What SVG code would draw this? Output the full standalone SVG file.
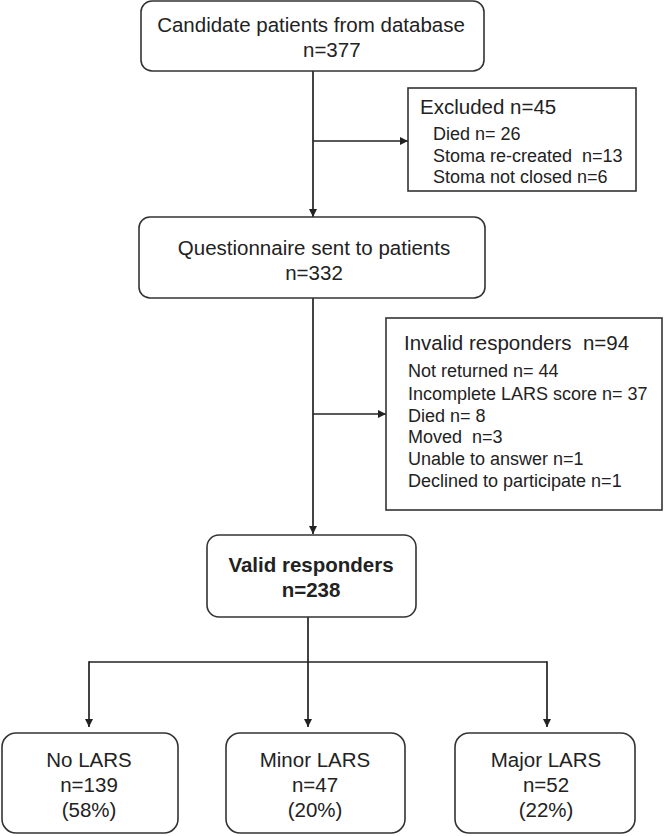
<svg xmlns="http://www.w3.org/2000/svg" width="664" height="836" viewBox="0 0 664 836">
<defs>
<marker id="arr" viewBox="0 0 10 10" refX="10" refY="5" markerWidth="8" markerHeight="8" markerUnits="userSpaceOnUse" orient="auto">
<path d="M0,0 L10,5 L0,10 z" fill="#222"/>
</marker>
<style>
.box{fill:#fff;stroke:#333;stroke-width:1.6}
.ln{fill:none;stroke:#222;stroke-width:1.7}
text{font-family:"Liberation Sans",Arial,sans-serif;fill:#222}
.t{font-size:20.5px}
.s{font-size:18px}
.c{text-anchor:middle}
.b{font-weight:bold}
</style>
</defs>
<rect width="664" height="836" fill="#fff"/>
<g id="connectors">
<line class="ln" x1="313" y1="71" x2="313" y2="217" marker-end="url(#arr)"/>
<line class="ln" x1="313" y1="141" x2="408" y2="141" marker-end="url(#arr)"/>
<line class="ln" x1="313" y1="298" x2="313" y2="534" marker-end="url(#arr)"/>
<line class="ln" x1="313" y1="414" x2="386" y2="414" marker-end="url(#arr)"/>
<line class="ln" x1="308" y1="617" x2="308" y2="727" marker-end="url(#arr)"/>
<line class="ln" x1="89" y1="662" x2="547" y2="662"/>
<line class="ln" x1="89" y1="661.2" x2="89" y2="727" marker-end="url(#arr)"/>
<line class="ln" x1="547" y1="661.2" x2="547" y2="727" marker-end="url(#arr)"/>
</g>
<g id="candidates">
<rect class="box" x="141" y="1" width="343" height="70" rx="11"/>
<text class="t c" x="311" y="32">Candidate patients from database</text>
<text class="t" x="303" y="57">n=377</text>
</g>
<g id="excluded">
<rect class="box" x="408" y="88" width="228" height="103"/>
<text class="t" x="420" y="114">Excluded n=45</text>
<text class="s" x="433" y="140">Died n= 26</text>
<text class="s" x="433" y="162" xml:space="preserve">Stoma re-created  n=13</text>
<text class="s" x="433" y="183">Stoma not closed n=6</text>
</g>
<g id="questionnaire">
<rect class="box" x="139" y="217" width="346" height="81" rx="11"/>
<text class="t c" x="314" y="255">Questionnaire sent to patients</text>
<text class="t c" x="314" y="280">n=332</text>
</g>
<g id="invalid">
<rect class="box" x="386" y="318" width="276" height="192"/>
<text class="t" x="404" y="350" xml:space="preserve">Invalid responders  n=94</text>
<text class="s" x="408" y="377">Not returned n= 44</text>
<text class="s" x="408" y="400">Incomplete LARS score n= 37</text>
<text class="s" x="408" y="422">Died n= 8</text>
<text class="s" x="408" y="443" xml:space="preserve">Moved  n=3</text>
<text class="s" x="408" y="465">Unable to answer n=1</text>
<text class="s" x="408" y="487">Declined to participate n=1</text>
</g>
<g id="valid">
<rect class="box" x="207" y="535" width="209" height="82" rx="12"/>
<text class="t c b" x="311" y="572">Valid responders</text>
<text class="t c b" x="311" y="597">n=238</text>
</g>
<g id="nolars">
<rect class="box" x="2" y="733" width="176" height="100" rx="14"/>
<text class="t c" x="89" y="767">No LARS</text>
<text class="t c" x="89" y="792">n=139</text>
<text class="t c" x="89" y="817">(58%)</text>
</g>
<g id="minorlars">
<rect class="box" x="226" y="733" width="179" height="100" rx="14"/>
<text class="t c" x="315" y="767">Minor LARS</text>
<text class="t c" x="315" y="792">n=47</text>
<text class="t c" x="315" y="817">(20%)</text>
</g>
<g id="majorlars">
<rect class="box" x="455" y="733" width="180" height="100" rx="14"/>
<text class="t c" x="546" y="767">Major LARS</text>
<text class="t c" x="546" y="792">n=52</text>
<text class="t c" x="546" y="817">(22%)</text>
</g>
</svg>
